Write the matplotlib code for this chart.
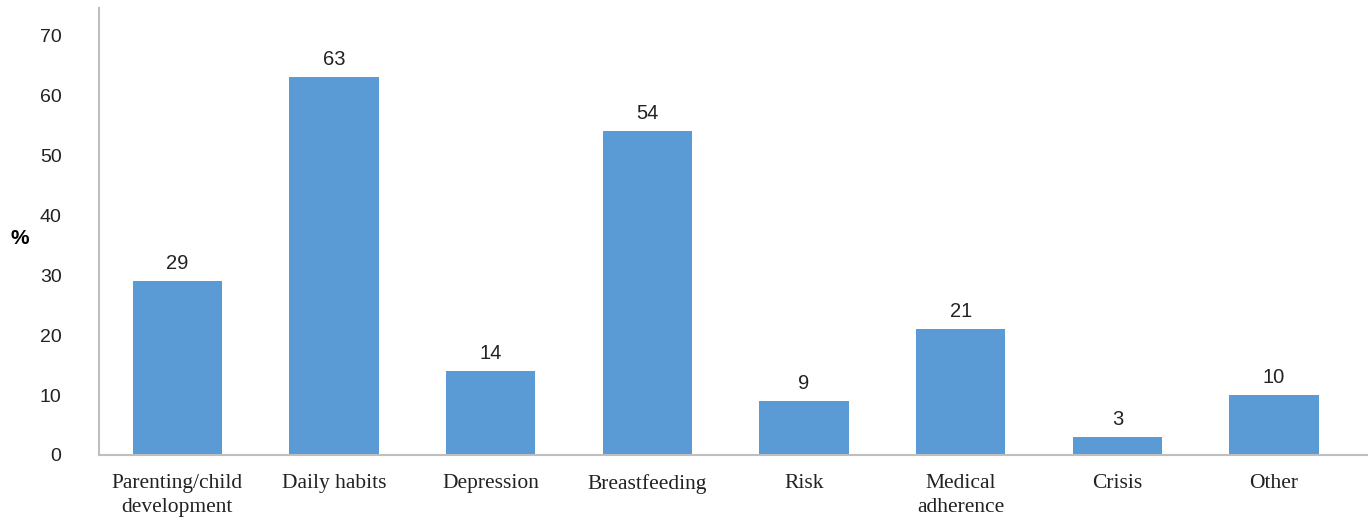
import numpy as np
import matplotlib
matplotlib.use('Agg')
import matplotlib.pyplot as plt

# Tópicos e percentagens
categorias = ['Parenting/child\ndevelopment', 'Daily habits', 'Depression',
              'Breastfeeding', 'Risk', 'Medical\nadherence', 'Crisis', 'Other']
valores = [29, 63, 14, 54, 9, 21, 3, 10]
yticks = [0, 10, 20, 30, 40, 50, 60, 70]

fig = plt.figure(figsize=(13.68, 5.21), dpi=100)
ax = fig.add_axes([0.0724, 0.1267, 0.9276, 0.858])

x = np.arange(len(categorias))
barras = ax.bar(x, valores, width=0.57, color='#5B9BD5')

# Valores acima das barras
for b, v in zip(barras, valores):
    ax.annotate(str(v), (b.get_x() + b.get_width() / 2, v),
                xytext=(0, 6), textcoords='offset points',
                ha='center', va='bottom', fontsize=14.5,
                family='Liberation Sans', color='#222222')

ax.set_xlim(-0.5, len(categorias) - 0.4)
ax.set_ylim(0, 74.6)
ax.set_yticks(yticks)
ax.set_yticklabels([str(t) for t in yticks], family='Liberation Sans',
                   fontsize=14, color='#222222')
ax.set_xticks(x)
ax.set_xticklabels(categorias, family='Liberation Serif', fontsize=15.5,
                   color='#222222', linespacing=1.33)
ax.tick_params(axis='both', length=0)
ax.tick_params(axis='x', pad=14)
ax.tick_params(axis='y', pad=27)

for s in ['top', 'right']:
    ax.spines[s].set_visible(False)
for s in ['left', 'bottom']:
    ax.spines[s].set_color('#BFBFBF')
    ax.spines[s].set_linewidth(1.5)

fig.text(0.0143, 0.543, '%', fontsize=15, fontweight='bold',
         family='Liberation Sans', ha='center', va='center')

fig.savefig('out.png', dpi=100)
